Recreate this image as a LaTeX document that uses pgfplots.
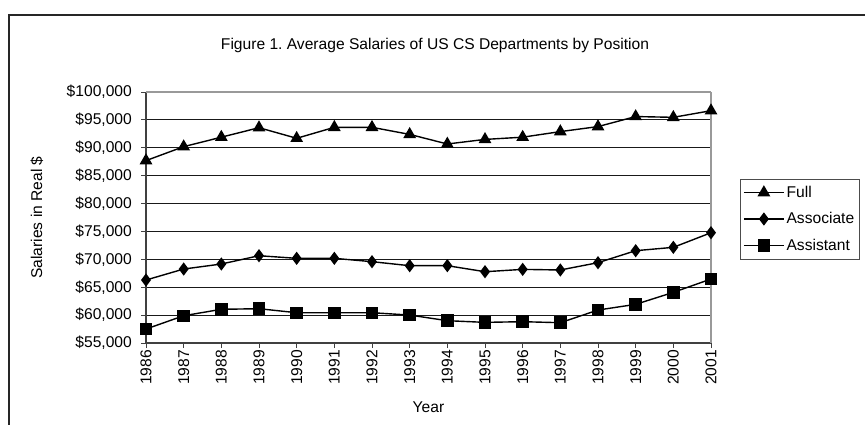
\documentclass[border=0pt]{standalone}
\usepackage{pgfplots}
\pgfplotsset{compat=1.18}
\usepackage{fontspec}
\setmainfont{Liberation Sans}
\begin{document}
\frenchspacing
\begin{tikzpicture}[font=\fontsize{15.6}{18}\selectfont]
\path[use as bounding box] (0pt,0pt) rectangle (865pt,-425pt);
\draw[line width=1.5pt, black!85] (9pt,-425pt) -- (9pt,-15pt) -- (865pt,-15pt);
\begin{axis}[
  at={(146pt,-343pt)}, anchor=south west,
  scale only axis, width=565pt, height=251pt,
  xmin=1986, xmax=2001, ymin=55000, ymax=100000,
  clip=false,
  scaled y ticks=false, scaled x ticks=false,
  axis lines*=left,
  axis line style={black!75, line width=1.2pt, -},
  /pgf/number format/assume math mode=true,
  xtick={1986,1987,1988,1989,1990,1991,1992,1993,1994,1995,1996,1997,1998,1999,2000,2001},
  xticklabels={1986,1987,1988,1989,1990,1991,1992,1993,1994,1995,1996,1997,1998,1999,2000,2001},
  xticklabel style={rotate=90, anchor=east, inner sep=2pt},
  ytick={55000,60000,65000,70000,75000,80000,85000,90000,95000},
  yticklabels={\$55{,}000,\$60{,}000,\$65{,}000,\$70{,}000,\$75{,}000,\$80{,}000,\$85{,}000,\$90{,}000,\$95{,}000},
  yticklabel style={inner sep=1pt, xshift=-8pt},
  extra y ticks={100000},
  extra y tick labels={\$100{,}000},
  extra y tick style={ymajorgrids=true, major grid style={black!40, line width=1.2pt}},
  extra x ticks={2001},
  extra x tick labels={},
  extra x tick style={xmajorgrids=true, major grid style={black!40, line width=1.2pt}, major tick length=0pt},
  ymajorgrids=true,
  major grid style={black!90, line width=0.9pt},
  tick align=outside,
  major tick length=5pt,
  tick style={black!75, line width=1pt},
  title={Figure 1. Average Salaries of US CS Departments by Position},
  title style={at={(axis description cs:0.5,1)}, anchor=center, yshift=41pt, xshift=6.5pt},
  xlabel={Year},
  xlabel style={at={(axis description cs:0.5,0)}, anchor=center, yshift=-64pt},
  ylabel={Salaries in Real \$},
  ylabel style={at={(axis description cs:0,0.5)}, anchor=center, yshift=109pt},
  every axis plot/.append style={black, line width=1.4pt, mark options={solid, fill=black}},
  legend style={at={(axis description cs:1.0513,0.6534)}, anchor=north west,
    draw=black!70, fill=white, inner xsep=3pt, inner ysep=5pt,
    row sep=9.6pt, font=\fontsize{15.6}{18}\selectfont,
    /tikz/every even column/.append style={column sep=1pt}},
  legend cell align=left,
  legend image code/.code={\draw[line width=1.4pt, mark repeat=2, mark phase=2] plot coordinates {(0pt,0pt) (20pt,0pt) (40pt,0pt)};},
]
\addplot[mark=triangle*, mark size=6pt] coordinates {
(1986,87700) (1987,90200) (1988,91900) (1989,93600) (1990,91700) (1991,93670) (1992,93670) (1993,92400)
(1994,90680) (1995,91500) (1996,91900) (1997,92900) (1998,93800) (1999,95600) (2000,95460) (2001,96650)};
\addlegendentry{Full}
\addplot[mark=diamond*, mark size=5.5pt] coordinates {
(1986,66290) (1987,68260) (1988,69160) (1989,70650) (1990,70180) (1991,70180) (1992,69580) (1993,68860)
(1994,68860) (1995,67780) (1996,68200) (1997,68090) (1998,69400) (1999,71550) (2000,72150) (2001,74770)};
\addlegendentry{Associate}
\addplot[mark=square*, mark size=5.5pt] coordinates {
(1986,57500) (1987,59890) (1988,61040) (1989,61150) (1990,60430) (1991,60430) (1992,60430) (1993,60010)
(1994,59000) (1995,58700) (1996,58820) (1997,58640) (1998,60910) (1999,61930) (2000,64080) (2001,66470)};
\addlegendentry{Assistant}
\end{axis}
\end{tikzpicture}
\end{document}
